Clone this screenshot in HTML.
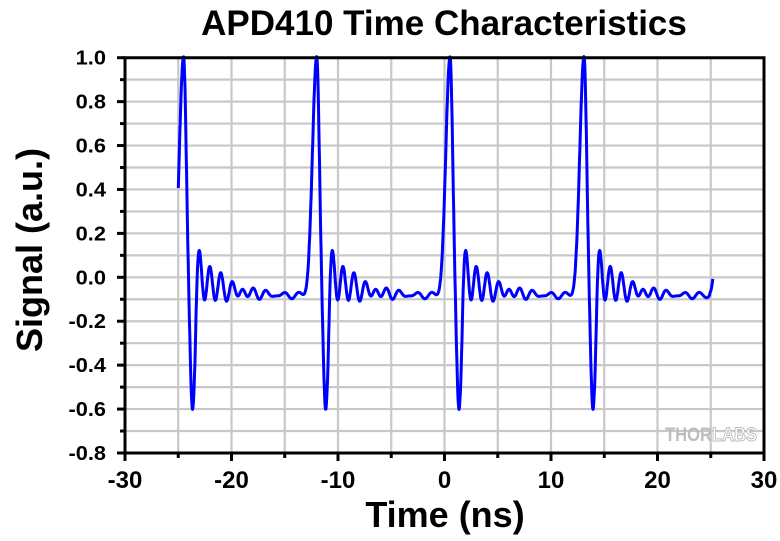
<!DOCTYPE html>
<html><head><meta charset="utf-8"><style>
body{margin:0;background:#fff;width:780px;height:536px;overflow:hidden}
text{font-family:"Liberation Sans",Arial,sans-serif;font-weight:bold}
</style></head><body>
<svg id="s" width="780" height="536" xmlns="http://www.w3.org/2000/svg">
<text x="444" y="35" font-size="35" text-anchor="middle">APD410 Time Characteristics</text>
<g id="grid" stroke="#c8c8c8" stroke-width="2.2"></g>
<text x="665" y="441" font-size="19" fill="#bdbdbd" textLength="47" lengthAdjust="spacingAndGlyphs">THOR</text>
<text x="712" y="441" font-size="19" fill="#fff" stroke="#bdbdbd" stroke-width="1" textLength="45" lengthAdjust="spacingAndGlyphs">LABS</text>
<path id="sig" fill="none" stroke="#0000ff" stroke-width="3" stroke-linejoin="round"/>
<g id="ax" stroke="#000" stroke-width="3"></g>
<g id="lab"></g>
<text x="445" y="527" font-size="36" text-anchor="middle">Time (ns)</text>
<text transform="translate(42,250) rotate(-90)" font-size="36" text-anchor="middle">Signal (a.u.)</text>
</svg>
<script>
var X=t=>125+(t+30)*10.65, Y=v=>57.7+(1-v)*219.6;
var ns="http://www.w3.org/2000/svg";
function el(p,tag,a,txt){var e=document.createElementNS(ns,tag);for(var k in a)e.setAttribute(k,a[k]);if(txt)e.textContent=txt;document.getElementById(p).appendChild(e);return e;}
for(var t=-25;t<30;t+=5)el("grid","line",{x1:X(t),x2:X(t),y1:Y(1),y2:Y(-0.8)});
for(var i=-7;i<10;i++){var v=i/10;el("grid","line",{x1:X(-30),x2:X(30),y1:Y(v),y2:Y(v)});}
var L=X(-30),R=X(30),T=Y(1),B=Y(-0.8);
el("ax","path",{d:"M"+L+" "+T+"H"+R+"V"+B+"H"+L+"Z",fill:"none"});
for(var t=-30;t<=30;t+=5){el("ax","line",{x1:X(t),x2:X(t),y1:B,y2:B+(t%10==0?8:5)});
 if(t%10==0)el("lab","text",{x:X(t),y:B+35,"text-anchor":"middle","font-size":"24"},String(t));}
for(var i=-8;i<=10;i++){var v=i/10;el("ax","line",{x1:L,x2:L-(i%2==0?8:5),y1:Y(v),y2:Y(v)});
 if(i%2==0){var s=v.toFixed(1);var w=(s.length==4?1.72:1.39)*21.8;
  el("lab","text",{x:L-19-w,y:Y(v)+7,"font-size":"20",textLength:w.toFixed(1),lengthAdjust:"spacingAndGlyphs"},s);}}
var P=[-24.5,-12.0,0.52,13.1,26.1];
function f(t){var s=-0.085;
 for(var k=0;k<P.length;k++){var r=t-P[k];
  var w=r<0?0.56:0.35;s+=1.09*Math.exp(-(r/w)*(r/w));
  s-=0.52*Math.exp(-Math.pow((r-0.84)/0.3,2));
  if(r>0.9&&r<11.8){var g=Math.min(1,(r-0.9)/0.3);g=g*g*(3-2*g);
   var e=Math.exp(-(r-1.2)/2.5);
   s+=g*(0.1*e+0.14*e*Math.sin(2*Math.PI*(r-1.2)/1.03)+0.012*Math.sin(2*Math.PI*r/1.5));}}
 return s;}
var d="";for(var t=-25;t<=25.2;t+=0.03){d+=(d?"L":"M")+X(t).toFixed(1)+" "+Y(f(t)).toFixed(1);}
document.getElementById("sig").setAttribute("d",d);
</script>
</body></html>
